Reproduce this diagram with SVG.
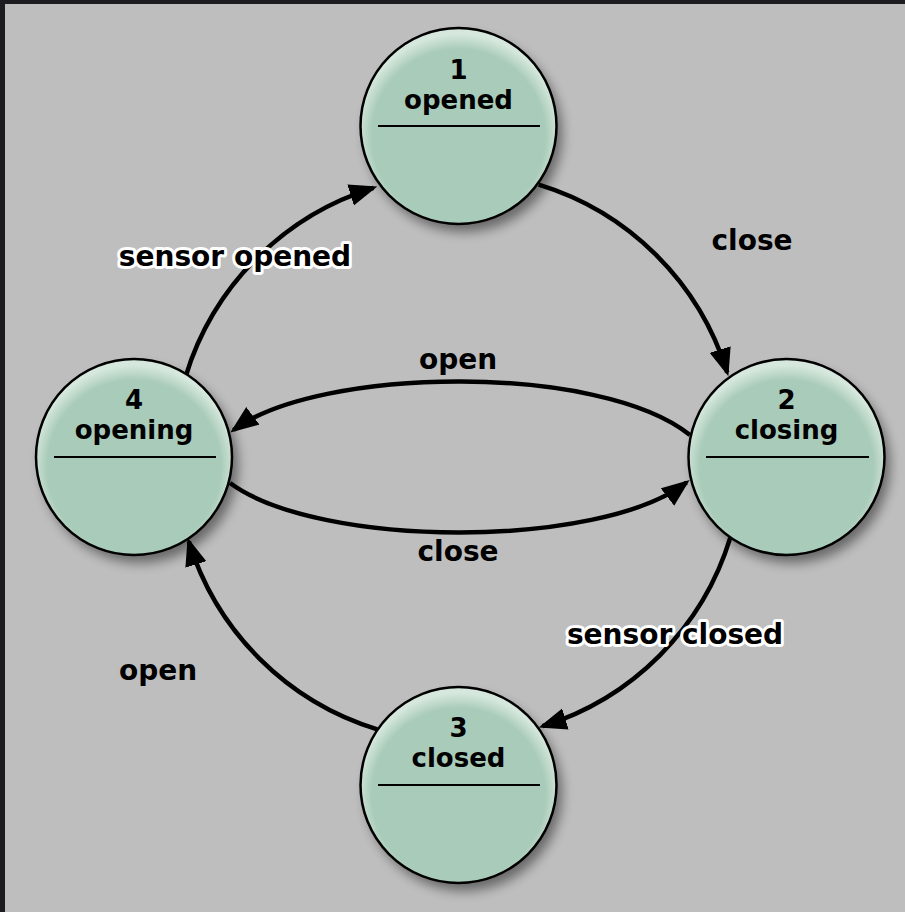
<svg xmlns="http://www.w3.org/2000/svg" width="905" height="912" viewBox="0 0 905 912">
<style>
.lbl{font-family:"DejaVu Sans",sans-serif;font-weight:bold;font-size:28px;fill:#000;text-anchor:middle}
.halo{stroke:#fff;stroke-width:6;paint-order:stroke;stroke-linejoin:round}
.nt{font-family:"DejaVu Sans",sans-serif;font-weight:bold;font-size:26px;fill:#000;text-anchor:middle}
.edge{fill:none;stroke:#000;stroke-width:4.5}
.st{fill:url(#g);stroke:#000;stroke-width:2.5}
.sh{fill:#000;opacity:0.45;filter:url(#blur)}
.div{stroke:#000;stroke-width:2}
</style>
<defs>
<radialGradient id="g" cx="0.5" cy="0.55" r="0.52">
<stop offset="0.85" stop-color="#a9cbb9"/>
<stop offset="1" stop-color="#d6e8dd"/>
</radialGradient>
<filter id="blur" x="-20%" y="-20%" width="140%" height="140%"><feGaussianBlur stdDeviation="6"/></filter>
<marker id="arr" markerUnits="userSpaceOnUse" markerWidth="32" markerHeight="26" refX="24" refY="11" orient="auto">
<path d="M0,0 L28,11 L0,22 z" fill="#000"/>
</marker>
</defs>
<rect x="0" y="0" width="905" height="912" fill="#1d1c21"/>
<rect x="5" y="4" width="900" height="908" fill="#bebebe"/>

<g id="connectors">
<path class="edge" marker-end="url(#arr)" d="M538.7,184.7 A284,284 0 0 1 727.2,372.5"/>
<path class="edge" marker-end="url(#arr)" d="M730.3,537.7 A284,284 0 0 1 542.5,726.2"/>
<path class="edge" marker-end="url(#arr)" d="M377.3,729.3 A284,284 0 0 1 188.8,541.5"/>
<path class="edge" marker-end="url(#arr)" d="M185.7,376.3 A284,284 0 0 1 373.5,187.8"/>
<path class="edge" marker-end="url(#arr)" d="M690,435 C600,363 320,366 233.5,430"/>
<path class="edge" marker-end="url(#arr)" d="M230,483 C320,549 600,549 686.5,482.5"/>
<text class="lbl" x="752" y="250">close</text>
<text class="lbl halo" x="675" y="644">sensor closed</text>
<text class="lbl" x="158" y="680">open</text>
<text class="lbl halo" x="235" y="266">sensor opened</text>
<text class="lbl" x="458" y="369">open</text>
<text class="lbl" x="458" y="561">close</text>
</g>

<g id="n1">
<circle class="sh" cx="464" cy="134" r="98"/>
<circle class="st" cx="458.5" cy="126" r="98"/>
<text class="nt" x="458.5" y="79">1</text>
<text class="nt" x="458.5" y="109">opened</text>
<line class="div" x1="378" y1="126" x2="540" y2="126"/>
</g>
<g id="n2">
<circle class="sh" cx="792" cy="465" r="98"/>
<circle class="st" cx="786.5" cy="457" r="98"/>
<text class="nt" x="786.5" y="409">2</text>
<text class="nt" x="786.5" y="439">closing</text>
<line class="div" x1="706" y1="457" x2="869" y2="457"/>
</g>
<g id="n3">
<circle class="sh" cx="464" cy="793" r="98"/>
<circle class="st" cx="458.5" cy="785" r="98"/>
<text class="nt" x="458.5" y="737">3</text>
<text class="nt" x="458.5" y="767">closed</text>
<line class="div" x1="378" y1="785" x2="540" y2="785"/>
</g>
<g id="n4">
<circle class="sh" cx="140" cy="465" r="98"/>
<circle class="st" cx="134" cy="457" r="98"/>
<text class="nt" x="134" y="409">4</text>
<text class="nt" x="134" y="439">opening</text>
<line class="div" x1="54" y1="457" x2="216" y2="457"/>
</g>
</svg>
